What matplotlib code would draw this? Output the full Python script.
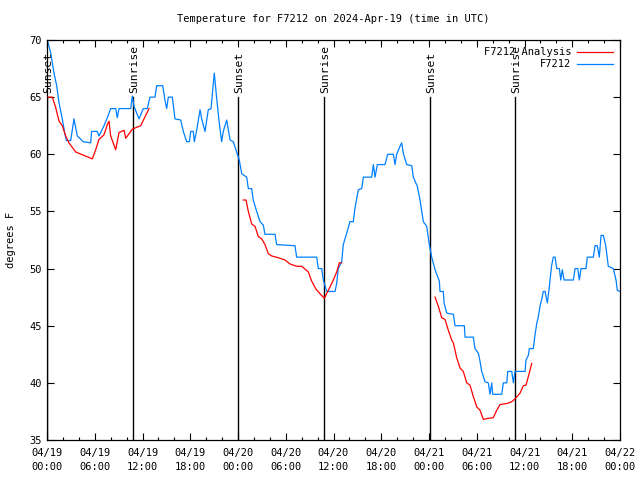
import numpy as np
import matplotlib
matplotlib.use("Agg")
import matplotlib.pyplot as plt
from matplotlib.ticker import MultipleLocator, FuncFormatter

# hours since 2024-04-19 00:00 UTC
obs_hours = [0.04, 0.46, 0.88, 1.22, 1.51, 1.92, 2.22, 2.43, 2.98, 3.39, 3.81, 4.56,
             5.49, 5.61, 6.32, 6.53, 7.16, 7.58, 8.00, 8.63, 8.83, 9.05, 10.52, 10.72,
             10.93, 11.56, 12.10, 12.60, 12.94, 13.57, 13.78, 14.54, 14.83, 15.04, 15.24,
             15.75, 16.08, 16.80, 17.13, 17.55, 17.88, 18.06, 18.38, 18.51, 18.81, 19.23,
             19.44, 19.85, 20.27, 20.61, 20.82, 21.02, 21.32, 21.65, 21.95, 22.15, 22.58,
             23.00, 23.41, 23.84, 24.16, 24.47, 25.09, 25.30, 25.72, 25.92, 26.35, 26.77,
             27.18, 27.39, 28.65, 28.86, 31.16, 31.37, 33.89, 34.09, 34.52, 34.72, 35.15,
             36.19, 36.40, 36.60, 37.03, 37.23, 37.66, 38.07, 38.49, 38.70, 39.12, 39.55,
             39.75, 40.80, 41.01, 41.22, 41.51, 42.47, 42.81, 43.52, 43.73, 43.94, 44.36,
             44.57, 44.77, 45.20, 45.83, 46.03, 46.53, 46.87, 47.29, 47.71, 48.04, 48.34,
             48.76, 49.30, 49.38, 49.80, 49.89, 50.23, 51.06, 51.27, 52.44, 52.53, 53.57,
             53.78, 54.20, 54.41, 54.62, 55.04, 55.45, 55.67, 55.88, 56.01, 56.30, 57.14,
             57.34, 57.77, 57.89, 58.40, 58.60, 58.81, 60.07, 60.19, 60.48, 60.61, 61.11,
             61.32, 61.54, 61.74, 61.95, 62.16, 62.36, 62.58, 62.87, 63.12, 63.30, 63.42,
             63.62, 63.84, 64.05, 64.38, 64.55, 64.75, 64.97, 66.14, 66.35, 66.69, 66.89,
             67.10, 67.73, 67.89, 68.65, 68.86, 69.15, 69.40, 69.62, 69.91, 70.21, 70.53,
             71.16, 71.50, 71.66, 72.00]
obs_temp = [70, 68.9, 67.1, 66, 64.5, 63.1, 61.9, 61.2, 61.2, 63.1, 61.6, 61.1,
            61, 62, 62, 61.6, 62.5, 63.2, 64, 64, 63.2, 64, 64, 65.1,
            64.2, 63.1, 64, 64, 65, 65, 66, 66, 64.7, 64, 65,
            65, 63.1, 63, 62, 61.1, 61.1, 62, 62, 61.1, 62.1, 63.9,
            63.1, 62, 63.9, 64, 65.6, 67.1, 64.9, 62.7, 61.1, 62, 63,
            61.25, 61.1, 60.2, 59.5, 58.3, 58, 57, 57, 56, 55, 54.1,
            53.8, 53, 53, 52.1, 52, 51, 51, 50, 50, 49, 48,
            48, 48.7, 50, 50.6, 52.1, 53.1, 54.1, 54.1, 55.3, 56.9, 57,
            58, 58, 59.1, 58, 59.1, 59.1, 60, 60, 59.1, 60, 60.7,
            61, 60.1, 59.1, 59, 58, 57.2, 56, 54.1, 53.7, 52.1, 51,
            49.9, 48.9, 48, 48, 47, 46.1, 46, 45, 45, 44, 44,
            43, 42.6, 41.9, 41, 40.1, 40, 39, 40, 39, 39, 39,
            40, 40, 41, 41, 40, 41, 41, 42, 42.4, 43, 43,
            44.2, 45.2, 45.8, 46.7, 47.3, 48, 48, 47, 48.4, 49.6, 50.3,
            51, 51, 50, 50, 49, 49.9, 49, 49, 50, 50, 49,
            50, 50, 51, 51, 52, 52, 51, 52.9, 52.9, 52, 50.2,
            50, 49, 48.1, 48]

ana_hours = [0.13, 0.67, 1.09, 1.51, 1.92, 2.35, 2.76, 3.61, 4.65, 5.69, 6.12, 6.53,
             7.16, 7.58, 7.79, 8.00, 8.63, 9.05, 9.68, 9.89, 10.72, 11.77, 12.82,
             np.nan,
             24.67, 25.01, 25.30, 25.72, 26.14, 26.55, 26.98, 27.39, 27.81, 28.24, 29.07,
             29.91, 30.54, 31.38, 32.01, 32.84, 33.26, 33.80, 34.31, 34.85, 35.35, 35.98,
             36.40, 36.73, 37.03,
             np.nan,
             48.76, 49.17, 49.60, 50.01, 50.43, 50.85, 51.06, 51.48, 51.90, 52.31, 52.74,
             53.15, 53.57, 54.00, 54.41, 54.83, 55.45, 56.08, 56.51, 56.92, 57.84, 58.40,
             58.81, 59.44, 59.85, 60.19, 60.69, 60.91]
ana_temp = [65, 65, 64.1, 62.9, 62.5, 61.6, 61, 60.2, 59.9, 59.6, 60.4, 61.3,
            61.7, 62.6, 62.9, 61.6, 60.4, 61.9, 62.1, 61.4, 62.2, 62.5, 64.0,
            np.nan,
            56, 56, 55, 53.9, 53.7, 52.8, 52.6, 52.1, 51.3, 51.1, 50.95,
            50.75, 50.4, 50.2, 50.2, 49.7, 48.9, 48.2, 47.8, 47.4, 48.1, 49,
            49.7, 50.5, 50.5,
            np.nan,
            47.5, 46.7, 45.7, 45.55, 44.6, 43.75, 43.5, 42.2, 41.3, 41, 40,
            39.8, 38.8, 37.9, 37.6, 36.8, 36.9, 36.95, 37.6, 38.1, 38.2, 38.35,
            38.6, 39.1, 39.75, 39.8, 41.1, 41.7]

sun_hours = [0.0, 10.8, 24.0, 34.8, 48.1, 58.8]
sun_labels = ["Sunset", "Sunrise", "Sunset", "Sunrise", "Sunset", "Sunrise"]
day_labels = ["04/19", "04/20", "04/21", "04/22"]

plt.rcParams['font.family'] = ['DejaVu Sans Mono']
plt.rcParams['font.size'] = 7.5

fig = plt.figure(figsize=(6.4, 4.8), dpi=100)
ax = fig.add_axes([47 / 640, 40 / 480, 573 / 640, 400 / 480])

for h, lab in zip(sun_hours, sun_labels):
    ax.plot([h, h], [35, 65], color='black', lw=1.0, zorder=1)
    ax.text(h + 0.15, 65.35, lab, rotation=90, ha='center', va='bottom', fontsize=8.2)

ax.plot(ana_hours, ana_temp, color='#ff0000', lw=0.9, label='F7212 Analysis', zorder=3)
ax.plot(obs_hours, obs_temp, color='#0080ff', lw=0.9, label='F7212', zorder=2)

ax.set_xlim(0, 72)
ax.set_ylim(35, 70)
ax.xaxis.set_major_locator(MultipleLocator(6))
ax.xaxis.set_minor_locator(MultipleLocator(2))
ax.yaxis.set_major_locator(MultipleLocator(5))


def fmt_time(x, pos):
    d = int(round(x)) // 24
    hr = int(round(x)) % 24
    return f"{day_labels[d]}\n{hr:02d}:00"


ax.xaxis.set_major_formatter(FuncFormatter(fmt_time))
ax.tick_params(which='both', direction='in', top=True, right=True, width=0.8)
ax.tick_params(which='major', length=5)
ax.tick_params(which='minor', length=2.5)
ax.tick_params(axis='x', pad=6)
for lbl in ax.get_xticklabels():
    lbl.set_linespacing(1.45)
for s in ax.spines.values():
    s.set_linewidth(0.9)

ax.set_ylabel("degrees F", labelpad=10)
ax.set_title("Temperature for F7212 on 2024-Apr-19 (time in UTC)", pad=13, fontsize=7.5)
ax.legend(loc='upper right', frameon=False, markerfirst=False, handlelength=3.4,
          handletextpad=0.6, labelspacing=0.2, borderaxespad=0.3, fontsize=7.5)

fig.savefig("out.png", dpi=100)
